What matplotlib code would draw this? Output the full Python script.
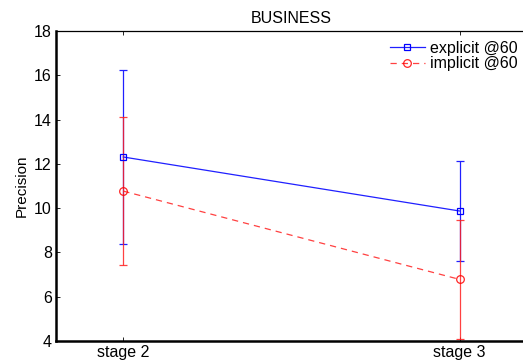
import matplotlib
matplotlib.use("Agg")
import matplotlib.pyplot as plt

plt.rcParams["font.family"] = ["Liberation Sans", "DejaVu Sans"]

stages = ["stage 2", "stage 3"]
x_pos = [1, 2]
explicit_mean = [12.31, 9.87]
explicit_err = [3.95, 2.27]
implicit_mean = [10.77, 6.78]
implicit_err = [3.33, 2.68]

fig = plt.figure(figsize=(5.23, 3.6), dpi=100)
ax = fig.add_axes([56 / 523, 19 / 360, 471 / 523, 310 / 360])

eb1 = ax.errorbar(x_pos, explicit_mean, yerr=explicit_err, color="#2020ff", lw=0.9,
                  marker="s", ms=4.5, mfc="none", mec="#0000ff", mew=0.9,
                  capsize=3, elinewidth=0.9)
eb2 = ax.errorbar(x_pos, implicit_mean, yerr=implicit_err, color="#ff2020", lw=0.9,
                  ls="--", dashes=(5, 4), marker="o", ms=5.5, mfc="none", mec="#ff0000",
                  mew=0.9, capsize=3, elinewidth=0.9, alpha=0.85)

ax.set_xlim(0.8, 2.2)
ax.set_ylim(4, 18)
ax.set_xticks(x_pos)
ax.set_xticklabels(stages)
ax.set_yticks(range(4, 19, 2))
ax.tick_params(direction="in", length=3, width=0.6, labelsize=11.5,
               top=True, right=True, pad=3)
ax.set_ylabel("Precision", fontsize=11)
ax.set_title("BUSINESS", fontsize=11.5, pad=6)

for side in ["left", "bottom"]:
    ax.spines[side].set_linewidth(1.8)
ax.spines["top"].set_linewidth(0.9)
ax.spines["right"].set_linewidth(0.9)

ax.legend(handles=[eb1[0], eb2[0]], labels=["explicit @60", "implicit @60"],
          loc="upper right", frameon=False, fontsize=11.5,
          handlelength=2.2, handletextpad=0.3, labelspacing=0.05,
          borderaxespad=0.2, bbox_to_anchor=(1.0, 1.0))

fig.savefig("out.png", dpi=100)
